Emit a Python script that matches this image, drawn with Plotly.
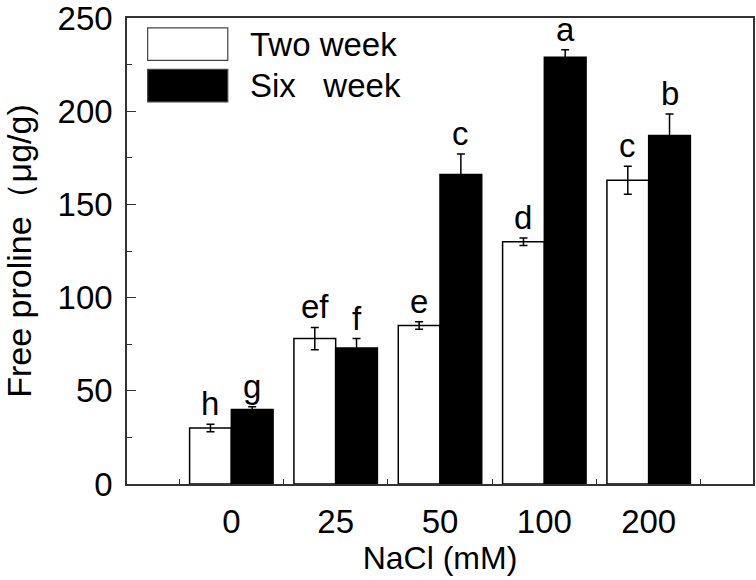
import plotly.graph_objects as go

categories = ["0", "25", "50", "100", "200"]
series_names = ["Two week", "Six   week"]
two_week = [30, 78, 85, 130, 163]
two_week_err = [2, 6, 2, 2, 7.5]
six_week = [40, 73, 166, 229, 187]
six_week_err = [1.5, 5, 11, 4, 11.5]
two_letters = ["h", "ef", "e", "d", "c"]
six_letters = ["g", "f", "c", "a", "b"]
y_ticks = [0, 50, 100, 150, 200, 250]

pos = list(range(1, len(categories) + 1))
FONT = "Arial, Liberation Sans, sans-serif"
fs = 33

fig = go.Figure()
fig.add_trace(go.Bar(
    x=pos, y=two_week, name=series_names[0],
    marker=dict(color="white", line=dict(color="black", width=1.5)),
    error_y=dict(type="data", array=two_week_err, color="black", thickness=1.5, width=4),
    showlegend=False,
))
fig.add_trace(go.Bar(
    x=pos, y=six_week, name=series_names[1],
    marker=dict(color="black", line=dict(color="black", width=1.5)),
    error_y=dict(type="data", array=six_week_err, color="black", thickness=1.5, width=4),
    showlegend=False,
))

ann = []
for i, p in enumerate(pos):
    ann.append(dict(x=p - 0.2, y=two_week[i] + two_week_err[i], text=two_letters[i],
                    xref="x", yref="y", showarrow=False, yanchor="bottom", yshift=0,
                    font=dict(size=fs, color="black", family=FONT)))
    ann.append(dict(x=p + 0.2, y=six_week[i] + six_week_err[i], text=six_letters[i],
                    xref="x", yref="y", showarrow=False, yanchor="bottom", yshift=0,
                    font=dict(size=fs, color="black", family=FONT)))

# custom legend (large swatches)
shapes = []
legend_rows = [(0.944, "white"), (0.855, "black")]
for (yc, col), name in zip(legend_rows, series_names):
    shapes.append(dict(type="rect", xref="paper", yref="paper",
                       x0=0.033, x1=0.161, y0=yc - 0.035, y1=yc + 0.035,
                       fillcolor=col, line=dict(color="#444", width=1.2)))
    ann.append(dict(x=0.193, y=yc, xref="paper", yref="paper", text=name,
                    showarrow=False, xanchor="left", yanchor="middle",
                    font=dict(size=fs, color="black", family=FONT)))

fig.update_layout(
    width=756, height=580,
    margin=dict(l=127, r=3, t=18, b=96),
    paper_bgcolor="white", plot_bgcolor="white",
    barmode="group", bargap=0.2, bargroupgap=0,
    font=dict(family=FONT, size=fs, color="black"),
    annotations=ann, shapes=shapes,
    xaxis=dict(
        range=[0, 6], tickmode="array", tickvals=pos, ticktext=categories,
        ticks="", showline=True, linecolor="#333", linewidth=1.5, mirror=True,
        showgrid=False, zeroline=False, automargin=False,
        minor=dict(tickmode="array", tickvals=[p - 0.5 for p in pos] + [pos[-1] + 0.5],
                   ticks="inside", ticklen=5, tickcolor="#333", tickwidth=1.2),
        title=dict(text="NaCl (mM)", font=dict(size=32), standoff=3),
        tickfont=dict(size=fs), ticklabelstandoff=8, ticklabeloverflow="allow",
    ),
    yaxis=dict(
        range=[0, 250], tickmode="array", tickvals=y_ticks,
        ticks="inside", ticklen=9, tickwidth=1.2, tickcolor="#333",
        showline=True, linecolor="#333", linewidth=1.5, mirror=True,
        showgrid=False, zeroline=False, automargin=False,
        minor=dict(dtick=25, tick0=0, ticks="inside", ticklen=5, tickcolor="#333", tickwidth=1.2),
        title=dict(text="Free proline（μg/g)", font=dict(size=34), standoff=16),
        tickfont=dict(size=fs), ticklabelstandoff=6, ticklabeloverflow="allow",
    ),
)

fig.write_html("out.html", config={"displayModeBar": False},
               post_script="document.body.style.margin='0';")
